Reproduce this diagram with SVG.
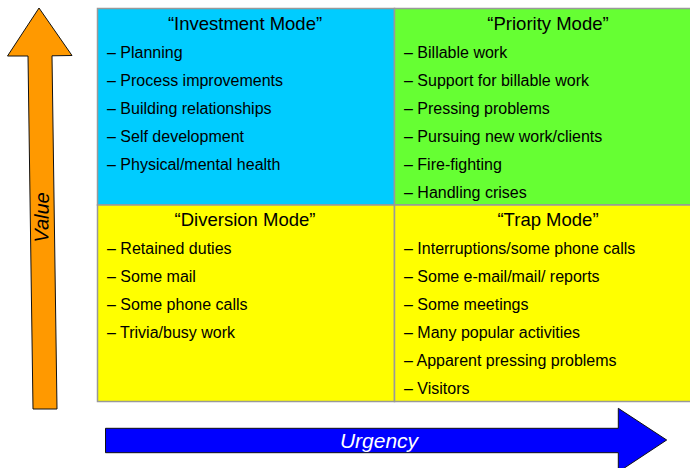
<svg xmlns="http://www.w3.org/2000/svg" width="690" height="468" viewBox="0 0 690 468">
  <style>
    text { font-family: "Liberation Sans", Arial, sans-serif; fill: #000; }
    .title { font-size: 18.5px; text-anchor: middle; }
    .item { font-size: 16px; }
    .cell { stroke: #999; stroke-width: 1.5; }
    .axis { stroke: #111; stroke-width: 1; stroke-linejoin: miter; }
    .axis-label { font-size: 20px; font-style: italic; text-anchor: middle; }
  </style>

  <rect width="690" height="468" fill="#fff"/>

  <!-- Value axis (vertical arrow) -->
  <g id="value-arrow">
    <polygon class="axis" fill="#FF9900" points="39,8 72,55.5 52,55.8 57,409 33,409 28,56 7.5,56"/>
    <text class="axis-label" transform="translate(48.5,217.5) rotate(-89.3)">Value</text>
  </g>

  <!-- Urgency axis (horizontal arrow) -->
  <g id="urgency-arrow">
    <polygon class="axis" fill="#0000FF" points="105.5,428.3 618.3,428.3 618.3,408.3 666.7,440 618.3,472 618.3,452.7 105.5,452.7"/>
    <text class="axis-label" x="379" y="448" style="fill:#fff;font-size:21px">Urgency</text>
  </g>

  <!-- Quadrants -->
  <g id="investment-mode">
    <rect class="cell" x="97.5" y="8.5" width="297" height="196.5" fill="#00CCFF"/>
    <text class="title" x="245" y="30">“Investment Mode”</text>
    <text class="item" x="107" y="58">– Planning</text>
    <text class="item" x="107" y="86">– Process improvements</text>
    <text class="item" x="107" y="114">– Building relationships</text>
    <text class="item" x="107" y="142">– Self development</text>
    <text class="item" x="107" y="170">– Physical/mental health</text>
  </g>

  <g id="priority-mode">
    <rect class="cell" x="394.5" y="8.5" width="297" height="196.5" fill="#66FF33"/>
    <text class="title" x="548" y="30">“Priority Mode”</text>
    <text class="item" x="404" y="58">– Billable work</text>
    <text class="item" x="404" y="86">– Support for billable work</text>
    <text class="item" x="404" y="114">– Pressing problems</text>
    <text class="item" x="404" y="142">– Pursuing new work/clients</text>
    <text class="item" x="404" y="170">– Fire-fighting</text>
    <text class="item" x="404" y="198">– Handling crises</text>
  </g>

  <g id="diversion-mode">
    <rect class="cell" x="97.5" y="205" width="297" height="196.5" fill="#FFFF00"/>
    <text class="title" x="245" y="226">“Diversion Mode”</text>
    <text class="item" x="107" y="254">– Retained duties</text>
    <text class="item" x="107" y="282">– Some mail</text>
    <text class="item" x="107" y="310">– Some phone calls</text>
    <text class="item" x="107" y="338">– Trivia/busy work</text>
  </g>

  <g id="trap-mode">
    <rect class="cell" x="394.5" y="205" width="297" height="196.5" fill="#FFFF00"/>
    <text class="title" x="548" y="226">“Trap Mode”</text>
    <text class="item" x="404" y="254">– Interruptions/some phone calls</text>
    <text class="item" x="404" y="282">– Some e-mail/mail/ reports</text>
    <text class="item" x="404" y="310">– Some meetings</text>
    <text class="item" x="404" y="338">– Many popular activities</text>
    <text class="item" x="404" y="366">– Apparent pressing problems</text>
    <text class="item" x="404" y="394">– Visitors</text>
  </g>

  <!-- no connectors between the quadrants -->
  <g id="connectors"/>
</svg>
